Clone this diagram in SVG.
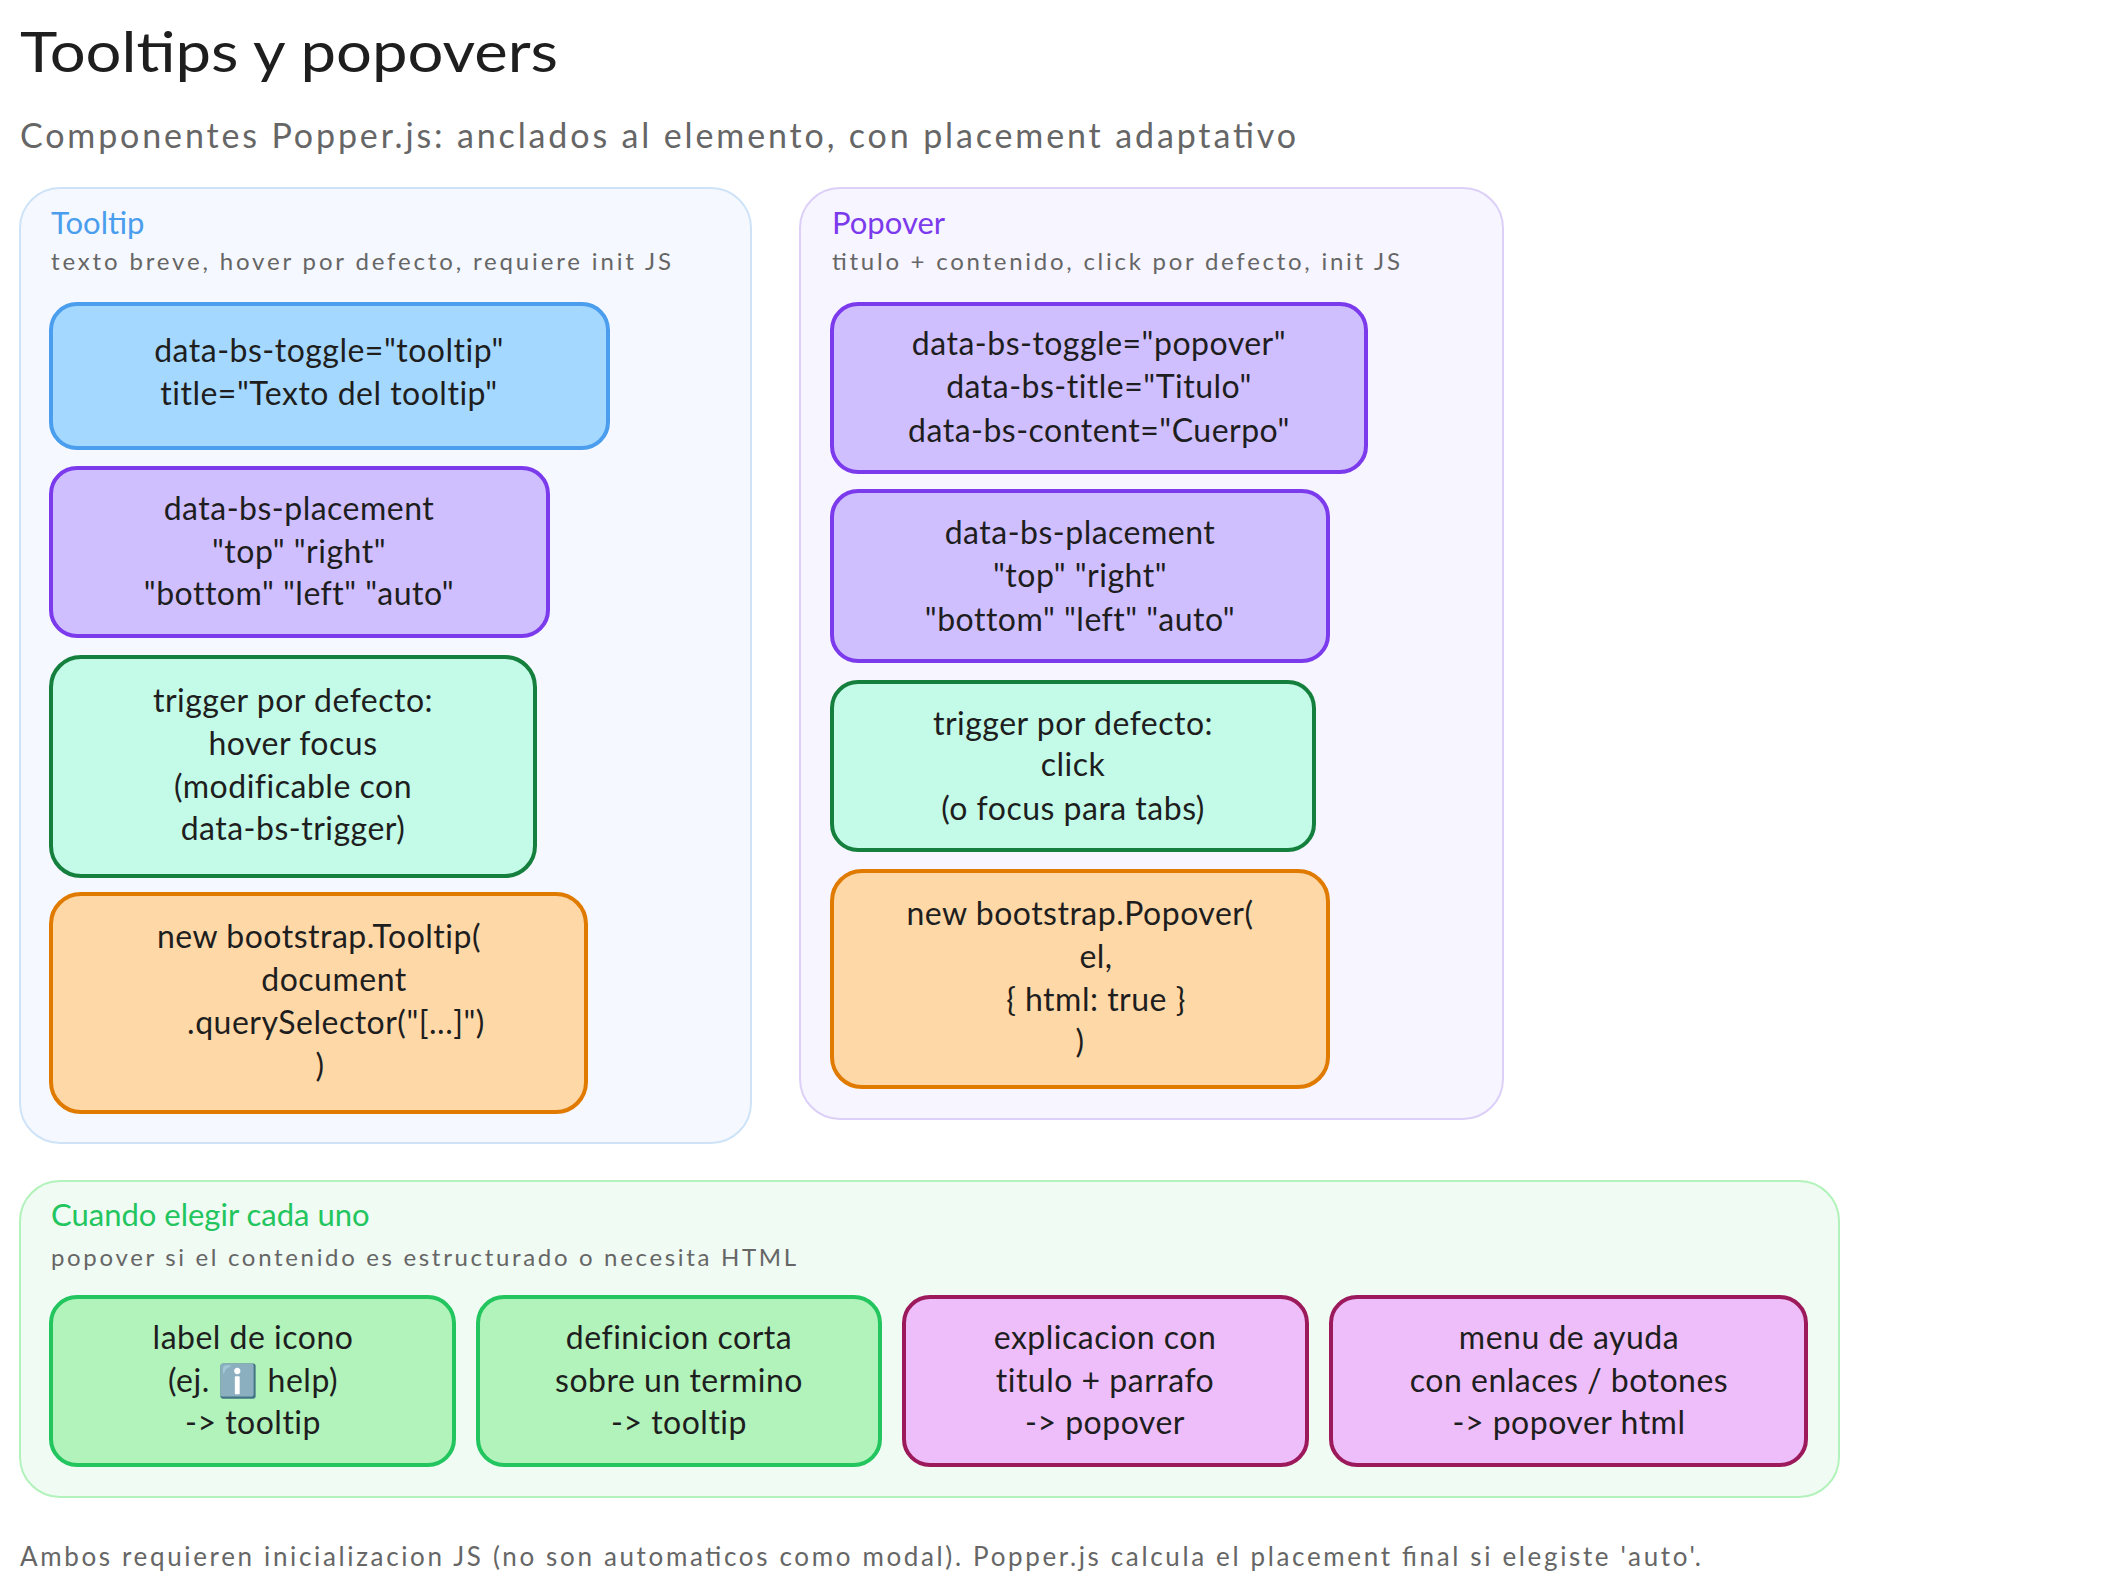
<svg xmlns="http://www.w3.org/2000/svg" width="2106" height="1587" viewBox="0 0 2106 1587">
<style>
text{font-family:"Lato","Liberation Sans",sans-serif;}
.t{font-size:32px;fill:#1e1e1e;text-anchor:middle;letter-spacing:0.5px}
.h{font-size:31px}
.s{font-size:24px;fill:#666}
.box{stroke-width:4}
.c{stroke-width:2}
</style>
<rect width="2106" height="1587" fill="#fff"/>
<text x="20" y="72" font-size="56" fill="#1e1e1e" textLength="538" lengthAdjust="spacingAndGlyphs">Tooltips y popovers</text>
<text x="20" y="148" font-size="34" fill="#666" textLength="1276">Componentes Popper.js: anclados al elemento, con placement adaptativo</text>

<g id="tooltip-group">
<rect class="c" x="20" y="188" width="731" height="955" rx="40" fill="#f5f8ff" stroke="#cfe3f8"/>
<text class="h" x="51" y="234" fill="#4a9eed">Tooltip</text>
<text class="s" x="51" y="270" textLength="620">texto breve, hover por defecto, requiere init JS</text>
</g>
<g id="t1"><rect class="box" x="51" y="304" width="557" height="144" rx="26" fill="#a5d8ff" stroke="#4a9eed"/>
<text class="t" x="329" y="362">data-bs-toggle="tooltip"</text><text class="t" x="329" y="405">title="Texto del tooltip"</text></g>
<g id="t2"><rect class="box" x="51" y="468" width="497" height="168" rx="26" fill="#d0bfff" stroke="#7c3aed"/>
<text class="t" x="299" y="520">data-bs-placement</text><text class="t" x="299" y="563">"top" "right"</text><text class="t" x="299" y="605">"bottom" "left" "auto"</text></g>
<g id="t3"><rect class="box" x="51" y="657" width="484" height="219" rx="30" fill="#c3fae8" stroke="#15803d"/>
<text class="t" x="293" y="712">trigger por defecto:</text><text class="t" x="293" y="755">hover focus</text><text class="t" x="293" y="798">(modificable con</text><text class="t" x="293" y="840">data-bs-trigger)</text></g>
<g id="t4"><rect class="box" x="51" y="894" width="535" height="218" rx="30" fill="#ffd8a8" stroke="#e07b00"/>
<text class="t" x="319" y="948">new bootstrap.Tooltip(</text><text class="t" x="334" y="991">document</text><text class="t" x="336" y="1034">.querySelector("[...]")</text><text class="t" x="320" y="1077">)</text></g>

<g id="popover-group">
<rect class="c" x="800" y="188" width="703" height="931" rx="40" fill="#f7f5ff" stroke="#ddd0f8"/>
<text class="h" x="832" y="234" fill="#7c3aed">Popover</text>
<text class="s" x="832" y="270" textLength="568">titulo + contenido, click por defecto, init JS</text>
</g>
<g id="p1"><rect class="box" x="832" y="304" width="534" height="168" rx="26" fill="#d0bfff" stroke="#7c3aed"/>
<text class="t" x="1099" y="355">data-bs-toggle="popover"</text><text class="t" x="1099" y="398">data-bs-title="Titulo"</text><text class="t" x="1099" y="442">data-bs-content="Cuerpo"</text></g>
<g id="p2"><rect class="box" x="832" y="491" width="496" height="170" rx="26" fill="#d0bfff" stroke="#7c3aed"/>
<text class="t" x="1080" y="544">data-bs-placement</text><text class="t" x="1080" y="587">"top" "right"</text><text class="t" x="1080" y="631">"bottom" "left" "auto"</text></g>
<g id="p3"><rect class="box" x="832" y="682" width="482" height="168" rx="26" fill="#c3fae8" stroke="#15803d"/>
<text class="t" x="1073" y="735">trigger por defecto:</text><text class="t" x="1073" y="776">click</text><text class="t" x="1073" y="820">(o focus para tabs)</text></g>
<g id="p4"><rect class="box" x="832" y="871" width="496" height="216" rx="30" fill="#ffd8a8" stroke="#e07b00"/>
<text class="t" x="1080" y="925">new bootstrap.Popover(</text><text class="t" x="1096" y="968">el,</text><text class="t" x="1096" y="1011">{ html: true }</text><text class="t" x="1080" y="1053">)</text></g>

<g id="when-group">
<rect class="c" x="20" y="1181" width="1819" height="316" rx="40" fill="#f0fbf3" stroke="#b2f2bb"/>
<text class="h" x="51" y="1226" fill="#22c55e">Cuando elegir cada uno</text>
<text class="s" x="51" y="1266" textLength="745">popover si el contenido es estructurado o necesita HTML</text>
</g>
<g id="w1"><rect class="box" x="51" y="1297" width="403" height="168" rx="26" fill="#b2f2bb" stroke="#22c55e"/>
<text class="t" x="253" y="1349">label de icono</text><text class="t" x="253" y="1392">(ej. ℹ️ help)</text><text class="t" x="253" y="1434">-&gt; tooltip</text></g>
<g id="w2"><rect class="box" x="478" y="1297" width="402" height="168" rx="26" fill="#b2f2bb" stroke="#22c55e"/>
<text class="t" x="679" y="1349">definicion corta</text><text class="t" x="679" y="1392">sobre un termino</text><text class="t" x="679" y="1434">-&gt; tooltip</text></g>
<g id="w3"><rect class="box" x="904" y="1297" width="403" height="168" rx="26" fill="#eebefa" stroke="#9c1a5b"/>
<text class="t" x="1105" y="1349">explicacion con</text><text class="t" x="1105" y="1392">titulo + parrafo</text><text class="t" x="1105" y="1434">-&gt; popover</text></g>
<g id="w4"><rect class="box" x="1331" y="1297" width="475" height="168" rx="26" fill="#eebefa" stroke="#9c1a5b"/>
<text class="t" x="1569" y="1349">menu de ayuda</text><text class="t" x="1569" y="1392">con enlaces / botones</text><text class="t" x="1569" y="1434">-&gt; popover html</text></g>
<g id="connectors"/>
<text x="20" y="1566" font-size="26" fill="#666" textLength="1681">Ambos requieren inicializacion JS (no son automaticos como modal). Popper.js calcula el placement final si elegiste 'auto'.</text>
</svg>
